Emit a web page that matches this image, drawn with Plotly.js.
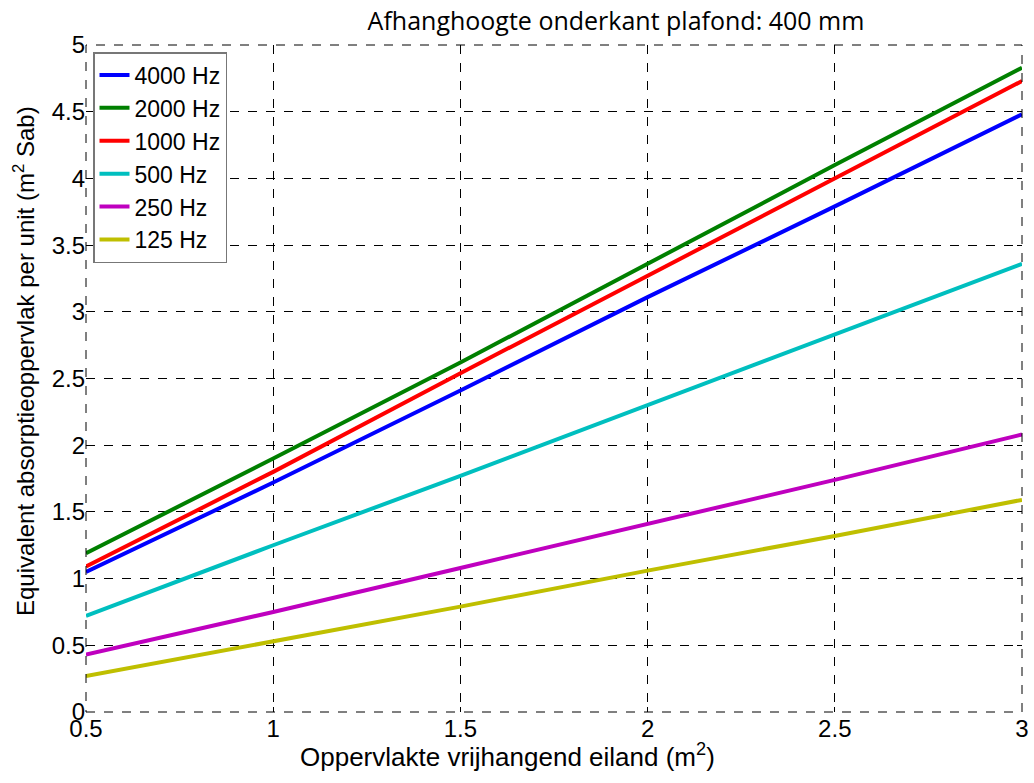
<!DOCTYPE html>
<html>
<head>
<meta charset="utf-8">
<script src="https://cdn.plot.ly/plotly-3.0.1.min.js"></script>
<style>html,body{margin:0;padding:0;background:#fff;}#chart{width:1034px;height:783px;}</style>
</head>
<body>
<div id="chart"></div>
<script>
const xValues = [0.5, 1, 1.5, 2, 2.5, 3];
const seriesNames = ['4000 Hz', '2000 Hz', '1000 Hz', '500 Hz', '250 Hz', '125 Hz'];
const hz4000 = [1.05, 1.72, 2.41, 3.11, 3.79, 4.48];
const hz2000 = [1.19, 1.90, 2.62, 3.36, 4.10, 4.83];
const hz1000 = [1.09, 1.80, 2.54, 3.27, 4.00, 4.73];
const hz500  = [0.72, 1.25, 1.77, 2.30, 2.83, 3.36];
const hz250  = [0.43, 0.75, 1.08, 1.41, 1.74, 2.08];
const hz125  = [0.27, 0.53, 0.79, 1.06, 1.32, 1.59];
const seriesValues = [hz4000, hz2000, hz1000, hz500, hz250, hz125];
const colors = ['#0000ff', '#008000', '#ff0000', '#00bfbf', '#bf00bf', '#bfbf00'];
const xTicks = [0.5, 1, 1.5, 2, 2.5, 3];
const xTickText = ['0.5', '1', '1.5', '2', '2.5', '3'];
const yTicks = [0, 0.5, 1, 1.5, 2, 2.5, 3, 3.5, 4, 4.5, 5];
const yTickText = ['0', '0.5', '1', '1.5', '2', '2.5', '3', '3.5', '4', '4.5', '5'];
const titleText = 'Afhanghoogte onderkant plafond: 400 mm';
const xTitleText = 'Oppervlakte vrijhangend eiland (m<sup>2</sup>)';
const yTitleText = 'Equivalent absorptieoppervlak per unit (m<sup>2</sup> Sab)';

const traces = seriesNames.map((n, i) => ({
  x: xValues, y: seriesValues[i], name: n, type: 'scatter', mode: 'lines',
  line: {color: colors[i], width: 4}
}));

const W = 1034, H = 783, L = 86, R = 12, T = 45, B = 71;
const pw = W - L - R, ph = H - T - B;

const layout = {
  width: W, height: H,
  margin: {l: L, r: R, t: T, b: B},
  paper_bgcolor: '#fff', plot_bgcolor: '#fff',
  font: {family: 'Liberation Sans, Arial, sans-serif', size: 23, color: '#000'},
  title: {text: titleText, x: 616/W, xref: 'container', xanchor: 'center', y: 1 - 21/H, yref: 'container', yanchor: 'middle', font: {family: 'Open Sans, sans-serif', size: 25, color: '#000'}},
  xaxis: {
    range: [0.5, 3], tickvals: xTicks, ticktext: xTickText,
    showgrid: true, gridcolor: '#000', griddash: 'dash', gridwidth: 1,
    zeroline: false, showline: false, ticks: 'inside', ticklen: 5, tickcolor: '#000', tickwidth: 1, mirror: 'ticks',
    tickfont: {size: 24}
  },
  yaxis: {
    range: [0, 5], tickvals: yTicks, ticktext: yTickText,
    showgrid: true, gridcolor: '#000', griddash: 'dash', gridwidth: 1,
    zeroline: false, showline: false, ticks: 'inside', ticklen: 5, tickcolor: '#000', tickwidth: 1, mirror: 'ticks',
    tickfont: {size: 24}
  },
  annotations: [
    {text: xTitleText, xref: 'paper', yref: 'paper', x: (507 - L) / pw, y: (T + ph - 755) / ph, xanchor: 'center', yanchor: 'middle', showarrow: false, font: {size: 26}},
    {text: yTitleText, xref: 'paper', yref: 'paper', x: (24 - L) / pw, y: (T + ph - 361) / ph, xanchor: 'center', yanchor: 'middle', textangle: -90, showarrow: false, font: {size: 24}}
  ],
  shapes: [
    {type: 'rect', xref: 'paper', yref: 'paper', x0: 0, x1: 1, y0: 0, y1: 1, line: {color: '#000', width: 1, dash: 'dash'}}
  ],
  legend: {
    x: 7 / pw, y: 1 - 7 / ph, xanchor: 'left', yanchor: 'top',
    bgcolor: '#fff', bordercolor: '#777', borderwidth: 1.5,
    font: {size: 23}, tracegroupgap: 0
  },
  showlegend: true
};

Plotly.newPlot('chart', traces, layout, {displayModeBar: false, staticPlot: true});
</script>
</body>
</html>
